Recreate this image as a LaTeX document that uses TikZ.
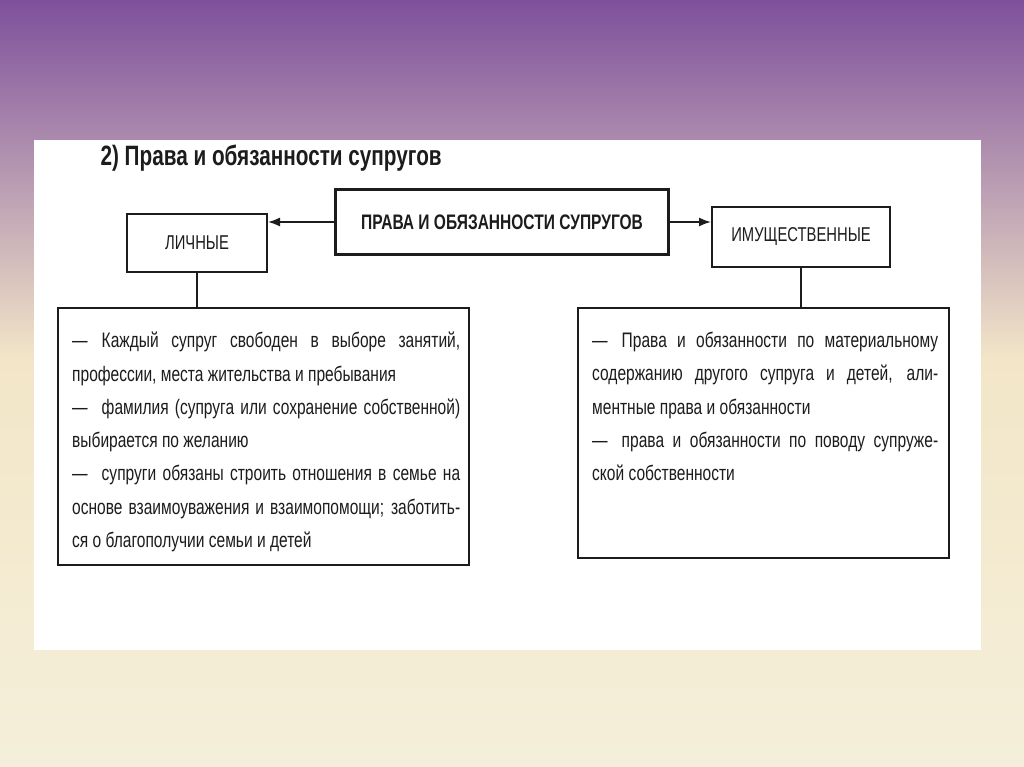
\documentclass[tikz,border=0pt]{standalone}
\usepackage{fontspec}
\setmainfont{Liberation Sans}[FakeStretch=0.74]
\usetikzlibrary{arrows.meta,positioning}
\definecolor{ink}{HTML}{1C1C1C}
\definecolor{plum}{HTML}{7E509C}
\definecolor{cream}{HTML}{F3E6C8}
\definecolor{paper}{HTML}{F4EFDA}

\begin{document}
\begin{tikzpicture}[x=1pt,y=-1pt,text=ink,>={Latex[length=12pt,width=9pt]},
  hubbox/.style={draw=ink,line width=3pt,inner sep=0pt,
    font=\fontsize{21}{25}\selectfont\bfseries},
  kindbox/.style={draw=ink,line width=2pt,inner sep=0pt,
    font=\fontsize{20}{24}\selectfont},
  listbox/.style={draw=ink,line width=2.4pt,inner sep=0pt},
  listtext/.style={anchor=north west,inner sep=0pt,align=justify,
    font=\fontsize{21}{33.3}\selectfont},
  link/.style={draw=ink,line width=1.6pt}]
  \useasboundingbox (0,0) rectangle (1024,767);
  \shade[top color=plum,bottom color=cream] (0,0) rectangle (1024,360);
  \shade[top color=cream,bottom color=paper] (0,360) rectangle (1024,767);
  \fill[white] (34,140) rectangle (981,650);

  \node[font=\fontsize{28}{32}\selectfont\bfseries,anchor=base west]
    (title) at (97,166) {2) Права и обязанности супругов};

  \node[hubbox,minimum width=333pt,minimum height=64pt]
    (hub) at (502,222) {ПРАВА И ОБЯЗАННОСТИ СУПРУГОВ};
  \node[kindbox,minimum width=140pt,minimum height=58pt]
    (personal) at (197,243) {ЛИЧНЫЕ};
  \node[kindbox,minimum width=178pt,minimum height=60pt]
    (property) at (801,237) {ИМУЩЕСТВЕННЫЕ};

  \node[listbox,minimum width=411pt,minimum height=257pt]
    (personallist) at (263.5,436.5) {};
  \node[listbox,minimum width=371pt,minimum height=250pt]
    (propertylist) at (763.5,433) {};

  \draw[link,->] (hub.west) -- (hub.west -| personal.east);
  \draw[link,->] (hub.east) -- (hub.east -| property.west);
  \draw[link] (personal.south) -- (personal.south |- personallist.north);
  \draw[link] (property.south) -- (property.south |- propertylist.north);

  \node[listtext,text width=388pt] (personaltext) at (72,332)
    {—\hspace{14pt}Каждый супруг свободен в выборе занятий,\linebreak
     профессии, места жительства и пребывания\\
     —\hspace{14pt}фамилия (супруга или сохранение собственной)\linebreak
     выбирается по желанию\\
     —\hspace{14pt}супруги обязаны строить отношения в семье на\linebreak
     основе взаимоуважения и взаимопомощи; заботить-\linebreak
     ся о благополучии семьи и детей};
  \node[listtext,text width=346pt] (propertytext) at (592,332)
    {—\hspace{14pt}Права и обязанности по материальному\linebreak
     содержанию другого супруга и детей, али-\linebreak
     ментные права и обязанности\\
     —\hspace{14pt}права и обязанности по поводу супруже-\linebreak
     ской собственности};
\end{tikzpicture}
\end{document}
